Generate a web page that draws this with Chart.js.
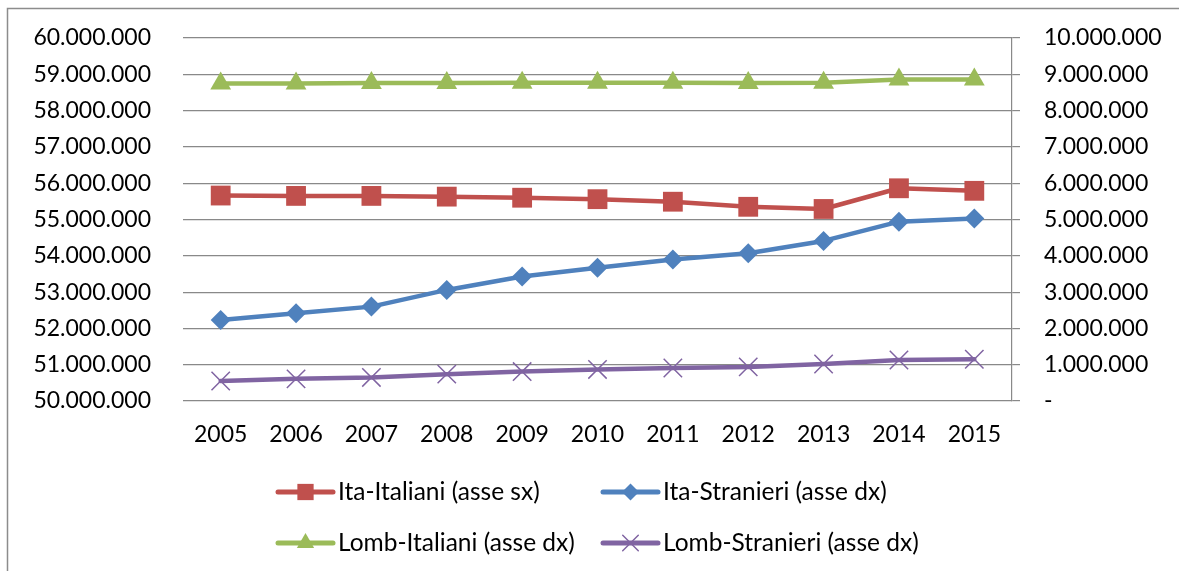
<!DOCTYPE html>
<html>
<head>
<meta charset="utf-8">
<script src="https://cdn.jsdelivr.net/npm/chart.js@4"></script>
<style>
  html, body { margin: 0; padding: 0; background: #fff; }
  canvas { display: block; }
</style>
</head>
<body>
<canvas id="chart" width="1179" height="571"></canvas>
<script>
// Categories
const years = ['2005', '2006', '2007', '2008', '2009', '2010', '2011', '2012', '2013', '2014', '2015'];

// Series (residents)
const itaItaliani   = [55660000, 55650000, 55650000, 55630000, 55600000, 55560000, 55490000, 55350000, 55290000, 55860000, 55790000];
const itaStranieri  = [2230000, 2420000, 2600000, 3060000, 3430000, 3670000, 3900000, 4070000, 4410000, 4940000, 5030000];
const lombItaliani  = [8750000, 8750000, 8760000, 8760000, 8770000, 8770000, 8770000, 8760000, 8770000, 8860000, 8860000];
const lombStranieri = [550000, 610000, 650000, 740000, 810000, 870000, 910000, 940000, 1020000, 1130000, 1150000];

// Tick labels, bottom to top
const leftTickLabels  = ['50.000.000', '51.000.000', '52.000.000', '53.000.000', '54.000.000', '55.000.000',
                         '56.000.000', '57.000.000', '58.000.000', '59.000.000', '60.000.000'];
const rightTickLabels = ['-', '1.000.000', '2.000.000', '3.000.000', '4.000.000', '5.000.000',
                         '6.000.000', '7.000.000', '8.000.000', '9.000.000', '10.000.000'];

const FONT = { family: 'Lato', size: 23 };
const LEGEND_FONT_SIZE = 24.5;
const GRID = '#898989';

// Outer frame of the chart object (top and left edges)
const framePlugin = {
  id: 'frame',
  beforeDraw(chart) {
    const ctx = chart.ctx;
    ctx.save();
    ctx.strokeStyle = '#8c8c8c';
    ctx.lineWidth = 1.5;
    ctx.beginPath();
    ctx.moveTo(7.5, chart.height);
    ctx.lineTo(7.5, 8.5);
    ctx.lineTo(chart.width, 8.5);
    ctx.stroke();
    ctx.restore();
  }
};

// Two-column legend below the plot
const gridLegendPlugin = {
  id: 'gridLegend',
  afterDraw(chart) {
    const ctx = chart.ctx;
    const cols = [278, 603];
    const rows = [492, 543];
    const lineLen = 55;
    chart.data.datasets.forEach((ds, i) => {
      const x = cols[i % 2];
      const y = rows[Math.floor(i / 2)];
      ctx.save();
      ctx.strokeStyle = ds.borderColor;
      ctx.lineWidth = 5;
      ctx.lineCap = 'round';
      ctx.beginPath();
      ctx.moveTo(x, y);
      ctx.lineTo(x + lineLen, y);
      ctx.stroke();
      ctx.fillStyle = ds.pointBackgroundColor;
      ctx.strokeStyle = ds.pointBorderColor;
      ctx.lineWidth = ds.pointBorderWidth || 0;
      Chart.helpers.drawPoint(ctx, {
        pointStyle: ds.pointStyle,
        rotation: 0,
        radius: ds.legendRadius,
        borderWidth: ds.pointBorderWidth || 0
      }, x + lineLen / 2, y);
      ctx.fillStyle = '#000';
      ctx.font = LEGEND_FONT_SIZE + 'px ' + FONT.family;
      ctx.textAlign = 'left';
      ctx.textBaseline = 'middle';
      ctx.fillText(ds.label, x + lineLen + 5, y);
      ctx.restore();
    });
  }
};

new Chart(document.getElementById('chart'), {
  type: 'line',
  data: {
    labels: years,
    datasets: [
      {
        label: 'Ita-Italiani (asse sx)',
        data: itaItaliani,
        yAxisID: 'y',
        borderColor: '#C0504D',
        backgroundColor: '#C0504D',
        borderWidth: 4.5,
        pointStyle: 'rect',
        pointRadius: 14,
        legendRadius: 11.5,
        pointBackgroundColor: '#C0504D',
        pointBorderColor: '#C0504D',
        pointBorderWidth: 0
      },
      {
        label: 'Ita-Stranieri (asse dx)',
        data: itaStranieri,
        yAxisID: 'y1',
        borderColor: '#4F81BD',
        backgroundColor: '#4F81BD',
        borderWidth: 4.5,
        pointStyle: 'rectRot',
        pointRadius: 10,
        legendRadius: 8.5,
        pointBackgroundColor: '#4F81BD',
        pointBorderColor: '#4F81BD',
        pointBorderWidth: 0
      },
      {
        label: 'Lomb-Italiani (asse dx)',
        data: lombItaliani,
        yAxisID: 'y1',
        borderColor: '#9BBB59',
        backgroundColor: '#9BBB59',
        borderWidth: 4.5,
        pointStyle: 'triangle',
        pointRadius: 12,
        legendRadius: 10,
        pointBackgroundColor: '#9BBB59',
        pointBorderColor: '#9BBB59',
        pointBorderWidth: 0
      },
      {
        label: 'Lomb-Stranieri (asse dx)',
        data: lombStranieri,
        yAxisID: 'y1',
        borderColor: '#8064A2',
        backgroundColor: '#8064A2',
        borderWidth: 4.5,
        pointStyle: 'crossRot',
        pointRadius: 13,
        legendRadius: 11,
        pointBackgroundColor: '#8064A2',
        pointBorderColor: '#8064A2',
        pointBorderWidth: 1.5
      }
    ]
  },
  options: {
    responsive: false,
    animation: false,
    events: [],
    layout: { padding: { top: 38, left: 0, right: 0, bottom: 0 } },
    elements: {
      line: { tension: 0, borderJoinStyle: 'round', borderCapStyle: 'round' }
    },
    plugins: {
      legend: { display: false },
      tooltip: { enabled: false }
    },
    scales: {
      x: {
        offset: true,
        grid: { display: false, drawTicks: false },
        border: { display: false },
        ticks: { font: FONT, color: '#000', padding: 20, maxRotation: 0, autoSkip: false },
        afterFit(scale) { scale.height = 170; }
      },
      y: {
        position: 'left',
        min: 50000000,
        max: 60000000,
        ticks: {
          stepSize: 1000000,
          font: FONT,
          color: '#000',
          padding: 0,
          callback: (v, i) => leftTickLabels[i]
        },
        // invisible tick marks keep the labels clear of the plot
        grid: { color: GRID, lineWidth: 1.2, drawTicks: true, tickLength: 32, tickColor: 'rgba(0,0,0,0)' },
        border: { display: false },
        afterFit(scale) { scale.width = 183; }
      },
      y1: {
        position: 'right',
        min: 0,
        max: 10000000,
        ticks: {
          stepSize: 1000000,
          font: FONT,
          color: '#000',
          padding: 24,
          callback: (v, i) => rightTickLabels[i]
        },
        grid: { drawOnChartArea: false, color: GRID, lineWidth: 1.2, tickLength: 8 },
        border: { display: true, color: GRID, width: 1.2 },
        afterFit(scale) { scale.width = 167; }
      }
    }
  },
  plugins: [framePlugin, gridLegendPlugin]
});
</script>
</body>
</html>
